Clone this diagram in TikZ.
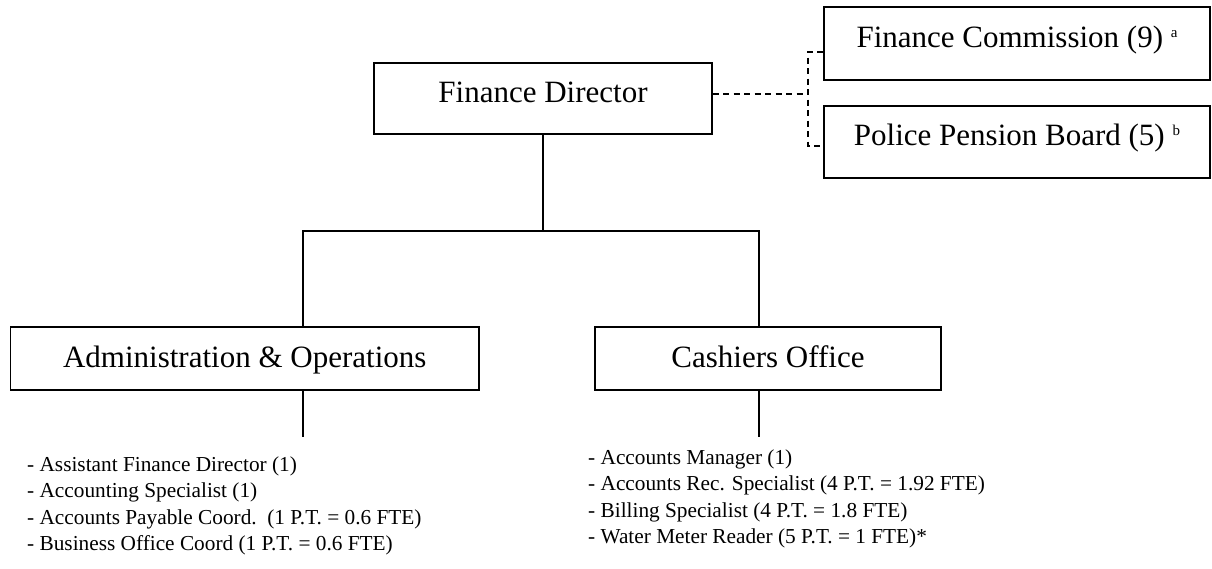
\documentclass[tikz,border=0pt]{standalone}
\usepackage{fontspec}
\setmainfont{Liberation Serif}
\usetikzlibrary{calc}
\begin{document}
\begin{tikzpicture}[x=1pt,y=-1pt,
  topbox/.style={draw,line width=1.4pt,inner sep=0pt,minimum height=71pt,
    font=\fontsize{31}{31}\selectfont,text height=21pt,text depth=14pt},
  lowbox/.style={draw,line width=1.4pt,inner sep=0pt,minimum height=63pt,
    font=\fontsize{31}{31}\selectfont,text height=21pt,text depth=4pt},
  conn/.style={line width=2pt},
  dsh/.style={line width=1.4pt,dash pattern=on 6pt off 4.5pt},
  listtext/.style={inner sep=0pt,align=left,anchor=base west,
    font=\fontsize{21.3}{26.5}\selectfont}]
\useasboundingbox (0,0) rectangle (1212,568);

\node[topbox,minimum width=338pt] (fd) at (543,98.5) {Finance Director};
\node[topbox,minimum width=386pt,minimum height=73pt] (fc) at (1017,43.5)
  {Finance Commission (9) \raisebox{10pt}{\fontsize{15}{15}\selectfont a}};
\node[topbox,minimum width=386pt,minimum height=72pt] (ppb) at (1017,142)
  {Police Pension Board (5) \raisebox{10pt}{\fontsize{15}{15}\selectfont b}};
\node[lowbox,minimum width=468.5pt] (admin) at (244.75,358.5) {Administration \& Operations};
\node[lowbox,minimum width=346pt] (cash) at (768,358.5) {Cashiers Office};

% base anchor of a multi-line node is the baseline of its last line
\node[listtext] (alist) at (27,550.5) {- Assistant Finance Director (1)\\
- Accounting Specialist (1)\\
- Accounts Payable Coord.\ \ (1 P.T. = 0.6 FTE)\\
- Business Office Coord (1 P.T. = 0.6 FTE)};
\node[listtext] (clist) at (588,543.5) {- Accounts Manager (1)\\
- Accounts Rec. Specialist (4 P.T. = 1.92 FTE)\\
- Billing Specialist (4 P.T. = 1.8 FTE)\\
- Water Meter Reader (5 P.T. = 1 FTE)*};

\coordinate (bus) at (543,231);
\coordinate (busL) at (303,231);
\coordinate (busR) at (759,231);
\coordinate (aEnd) at (303,437);
\coordinate (cEnd) at (759,437);
\draw[conn] (fd.south) -- (bus);
\draw[conn] (admin.north -| busL) |- (busR) -- (cash.north -| busR);
\draw[conn] (admin.south -| aEnd) -- (aEnd);
\draw[conn] (cash.south -| cEnd) -- (cEnd);

\coordinate (dj) at (808,94);
\coordinate (dt) at (808,52);
\coordinate (db) at (808,146);
\draw[dsh] (fd.east |- dj) -- (dj);
\draw[dsh] (fc.west |- dt) -- (dt) -- (db) -- (ppb.west |- db);
\end{tikzpicture}
\end{document}
